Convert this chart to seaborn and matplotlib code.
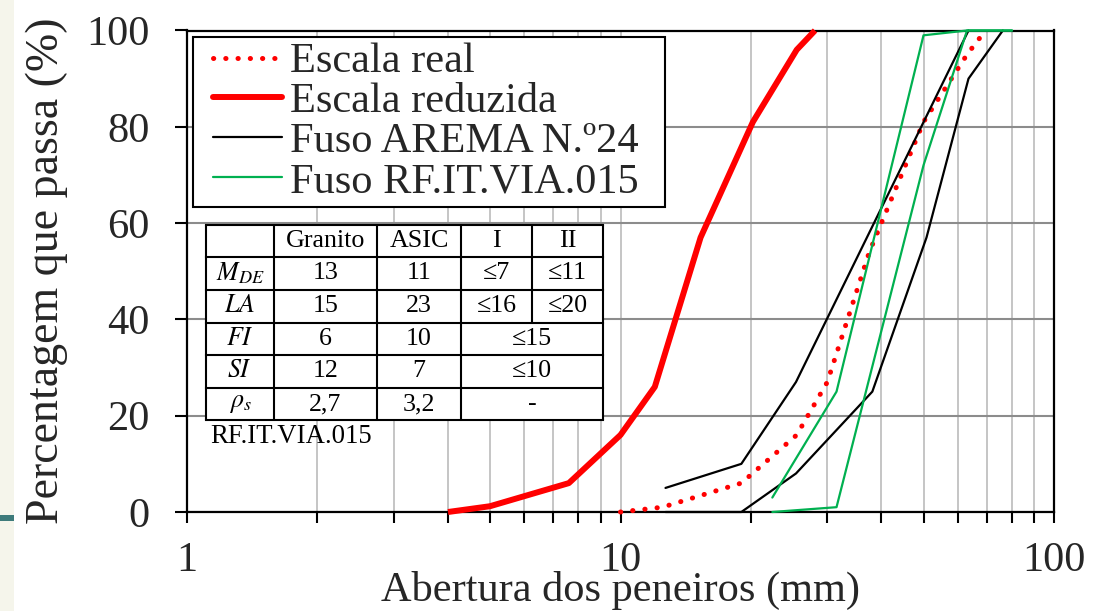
import numpy as np
import pandas as pd
import seaborn as sns
import matplotlib.pyplot as plt
from matplotlib.patches import Rectangle
from matplotlib.lines import Line2D
from matplotlib.legend_handler import HandlerLine2D
from matplotlib.ticker import LogLocator, FixedLocator, FixedFormatter, NullFormatter

# Grading curves: sieve opening (mm) vs. cumulative percentage passing
real_x = [10, 12.5, 19, 25.5, 30, 37.5, 50, 63, 69.5]
real_y = [0, 1, 6, 16, 27, 54, 81, 95, 100]
reduced_x = [4, 5, 7.6, 10, 12, 15.3, 20.2, 25.5, 28.1]
reduced_y = [0, 1.2, 6, 16, 26, 57, 81, 96, 100]
arema_upper_x = [12.7, 19, 25.4, 63.5]
arema_upper_y = [5, 10, 27, 100]
arema_lower_x = [12.7, 19, 25.4, 38.1, 50.8, 63.5, 76.2]
arema_lower_y = [0, 0, 8, 25, 57, 90, 100]
rfit_upper_x = [22.4, 31.5, 50, 63, 80]
rfit_upper_y = [3, 25, 99, 100, 100]
rfit_lower_x = [22.4, 31.5, 50, 63, 80]
rfit_lower_y = [0, 1, 72, 100, 100]

series_labels = ["Escala real", "Escala reduzida", "Fuso AREMA N.º24", "Fuso RF.IT.VIA.015"]

x_ticks = [1, 10, 100]
x_tick_labels = ["1", "10", "100"]
y_ticks = [0, 20, 40, 60, 80, 100]

# Aggregate properties table (None = merged with column I)
table_header = ["", "Granito", "ASIC", "I", "II"]
table_rows = [r"$M_{DE}$", r"$LA$", r"$FI$", r"$SI$", r"$\rho_s$"]
granito = ["13", "15", "6", "12", "2,7"]
asic = ["11", "23", "10", "7", "3,2"]
limit_I = ["≤7", "≤16", "≤15", "≤10", "-"]
limit_II = ["≤11", "≤20", None, None, None]
table_note = "RF.IT.VIA.015"

RED = "#ff0000"
GREEN = "#00b050"
DOTS = (0, (0.05, 2.4))

sns.set_theme(style="white")
plt.rcParams["font.family"] = ["Liberation Serif", "DejaVu Serif"]
plt.rcParams["mathtext.fontset"] = "stix"

fig = plt.figure(figsize=(10.96, 6.11), dpi=100)
fig.patch.set_facecolor("white")
ax = fig.add_axes([187 / 1096, 1 - 512 / 611, 867 / 1096, 481.5 / 611])
ax.set_facecolor("white")

# slide decoration on the left edge
fig.patches.append(Rectangle((0, 0), 14 / 1096, 1, transform=fig.transFigure,
                             facecolor="#f5f5eb", edgecolor="none", zorder=0))
fig.patches.append(Rectangle((0, 1 - 521 / 611), 14 / 1096, 6 / 611, transform=fig.transFigure,
                             facecolor="#3e7b7b", edgecolor="none", zorder=1))

line_kw = dict(ax=ax, sort=False, estimator=None, clip_on=False, zorder=5)
sns.lineplot(x=real_x, y=real_y, color=RED, lw=3.6, linestyle=DOTS,
             dash_capstyle="round", **line_kw)
sns.lineplot(x=reduced_x, y=reduced_y, color=RED, lw=4.3, solid_capstyle="butt", **line_kw)
sns.lineplot(x=arema_upper_x, y=arema_upper_y, color="black", lw=1.6, **line_kw)
sns.lineplot(x=arema_lower_x, y=arema_lower_y, color="black", lw=1.6, **line_kw)
sns.lineplot(x=rfit_upper_x, y=rfit_upper_y, color=GREEN, lw=1.6, **line_kw)
sns.lineplot(x=rfit_lower_x, y=rfit_lower_y, color=GREEN, lw=1.6, **line_kw)

ax.set_xscale("log")
ax.set_xlim(1, 100)
ax.set_ylim(0, 100)
ax.xaxis.set_major_locator(FixedLocator(x_ticks))
ax.xaxis.set_major_formatter(FixedFormatter(x_tick_labels))
ax.xaxis.set_minor_locator(LogLocator(base=10, subs=np.arange(2, 10)))
ax.xaxis.set_minor_formatter(NullFormatter())
ax.set_yticks(y_ticks)

ax.grid(which="both", axis="x", color="#c0c0c0", lw=1.3, zorder=0)
ax.grid(which="major", axis="y", color="#8c8c8c", lw=1.5, zorder=0)
ax.set_axisbelow(True)

for s in ax.spines.values():
    s.set_color("black")
    s.set_linewidth(1.6)
    s.set_zorder(4)

ax.tick_params(axis="x", which="both", direction="out", length=8, width=1.5,
               color="black", labelsize=30.5, pad=13, bottom=True)
ax.tick_params(axis="y", which="major", direction="out", length=9, width=1.5,
               color="black", labelsize=30.5, pad=18, left=True)

ax.set_xlabel("Abertura dos peneiros (mm)", fontsize=30.5)
ax.set_ylabel("Percentagem que passa (%)", fontsize=33)
ax.xaxis.set_label_coords(0.5, -0.122)
ax.yaxis.set_label_coords(-0.137, 0.5)


class InsetLine(HandlerLine2D):
    """Legend line that starts a little to the right of the frame."""

    def get_xdata(self, legend, xdescent, ydescent, width, height, fontsize):
        xd, xm = super().get_xdata(legend, xdescent, ydescent, width, height, fontsize)
        x0 = -xdescent + 0.17 * width
        x1 = -xdescent + width
        return np.array([x0, x1]), np.array([x0, x1])


handles = [
    Line2D([], [], color=RED, lw=3.6, linestyle=DOTS, dash_capstyle="round"),
    Line2D([], [], color=RED, lw=4.3),
    Line2D([], [], color="black", lw=1.6),
    Line2D([], [], color=GREEN, lw=1.6),
]
leg = ax.legend(handles, series_labels, loc="upper left",
                bbox_to_anchor=(0.007, 0.986, 0.5444, 0.0), mode="expand",
                borderaxespad=0, frameon=True, fancybox=False, edgecolor="black",
                framealpha=1, fontsize=30.5, handlelength=1.96, handletextpad=0.19,
                labelspacing=0.03, borderpad=0.13,
                handler_map={Line2D: InsetLine()})
leg.get_frame().set_linewidth(1.5)
leg.set_zorder(10)

# property table drawn in axes fraction coordinates
col_edges = [0.0219, 0.1003, 0.2191, 0.3160, 0.3979, 0.4798]
row_edges = [0.5961, 0.5296, 0.4611, 0.3925, 0.3261, 0.2575, 0.1911]
tfs = 18.7
ax.add_patch(Rectangle((col_edges[0], row_edges[-1]), col_edges[-1] - col_edges[0],
                       row_edges[0] - row_edges[-1], transform=ax.transAxes,
                       facecolor="white", edgecolor="none", zorder=6))
for ye in row_edges:
    ax.plot([col_edges[0], col_edges[-1]], [ye, ye], transform=ax.transAxes,
            color="black", lw=1.5, zorder=7, solid_capstyle="projecting")
for j, xe in enumerate(col_edges):
    y_end = row_edges[3] if j == 4 else row_edges[-1]
    ax.plot([xe, xe], [row_edges[0], y_end], transform=ax.transAxes,
            color="black", lw=1.5, zorder=7)


def cell_text(txt, c0, c1, r):
    xc = (col_edges[c0] + col_edges[c1]) / 2
    yc = (row_edges[r] + row_edges[r + 1]) / 2
    ax.text(xc, yc, txt, transform=ax.transAxes, ha="center", va="center",
            fontsize=tfs, color="black", zorder=8)


for j, h in enumerate(table_header):
    if h:
        cell_text(h, j, j + 1, 0)
for i, lab in enumerate(table_rows):
    r = i + 1
    cell_text(lab, 0, 1, r)
    cell_text(granito[i], 1, 2, r)
    cell_text(asic[i], 2, 3, r)
    if limit_II[i] is None:
        cell_text(limit_I[i], 3, 5, r)
    else:
        cell_text(limit_I[i], 3, 4, r)
        cell_text(limit_II[i], 4, 5, r)

ax.text(0.0265, 0.156, table_note, transform=ax.transAxes, ha="left", va="center",
        fontsize=19.3, color="black", zorder=8)

fig.savefig("out.png", dpi=100, facecolor="white")
